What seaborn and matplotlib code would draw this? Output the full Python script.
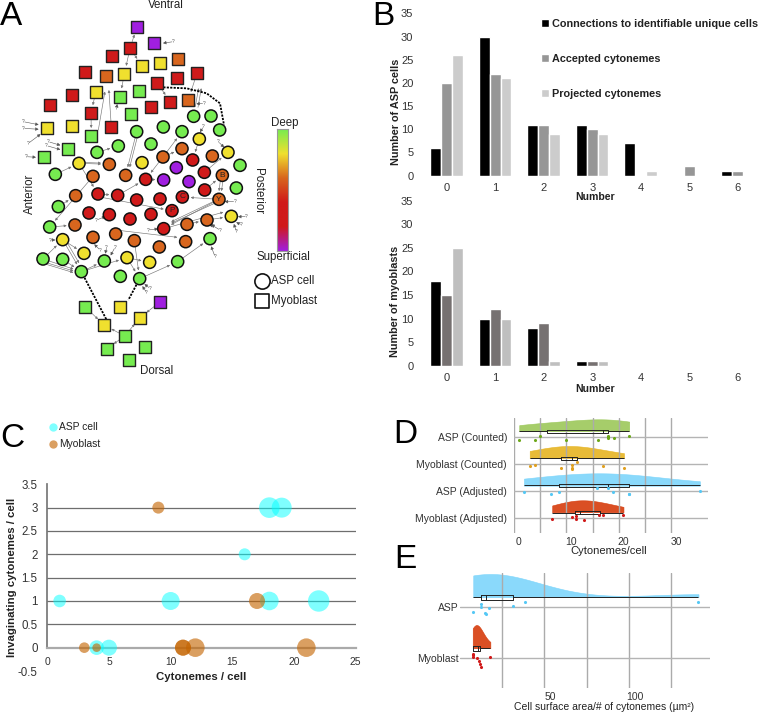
import numpy as np, pandas as pd
import matplotlib
matplotlib.use("Agg")
import matplotlib.pyplot as plt
import seaborn as sns
from matplotlib.colors import LinearSegmentedColormap
from matplotlib.transforms import ScaledTranslation

# ---------- Panel A data (node map) ----------
sq_x = [411,463,390,335,426,480,535,255,319,373,591,532,472,216,287,360,417,565,511,149,273,454,392,140,216,334,274,203,131,
        256,360,481,420,312,374,321,434,387]
sq_y = [80,130,145,167,197,190,178,215,227,222,219,233,250,286,277,290,273,300,305,316,340,321,343,384,379,381,409,446,471,
        921,921,905,953,975,1008,1046,1040,1080]
sq_depth = list("PPRRYYOROYRRRRYGGORRRRGYYRGGG" "GYPYYGGGG")
ci_x = [581,633,490,659,546,410,598,453,355,291,546,489,684,637,578,720,426,328,237,529,613,166,279,377,437,491,567,667,709,614,
        227,294,353,410,480,547,657,175,516,267,328,390,453,694,621,561,491,149,225,188,279,347,403,557,630,478,252,129,188,313,381,449,533,244,361,419]
ci_y = [349,348,381,390,395,395,417,432,438,457,446,471,457,468,480,496,488,493,490,503,517,523,529,526,538,540,545,526,564,570,
        587,582,586,600,597,591,598,620,632,639,644,657,643,649,660,673,686,681,675,719,712,702,722,725,716,741,760,777,778,783,773,787,785,815,829,836]
ci_depth = list("GGGGGGYGGGOOYORGYOYPRGOOR" "PPOGR" "ORRRRROGRRRRRYOORGOYOOOOGOYGGGYYGGGG")
ci_tags = {"B": (667,526), "C": (547,591), "Y": (657,598), "P": (516,632)}
depth_colors = {"G":"#76ec50","Y":"#f0e02e","O":"#d8661e","R":"#d01a1a","P":"#a01fe0"}
depth_scale = ["#a01fe0","#d01a1a","#d01a1a","#d8661e","#f0e02e","#76ec50"]
links = [(273,340,274,409),(287,277,273,340),(295,390,319,250),(334,381,325,245),(373,222,360,290),(390,145,373,222),
 (390,145,426,197),(390,145,411,80),(591,219,565,300),(586,320,600,240),(594,322,608,240),(472,250,511,305),(511,305,490,345),
 (237,490,328,493),(237,487,328,490),(166,523,237,490),(291,457,355,438),(279,529,149,681),(175,620,227,587),(237,490,294,582),
 (294,582,353,586),(353,586,437,538),(437,538,491,540),(410,395,377,526),(416,395,383,526),(489,471,546,395),(489,471,546,446),
 (294,590,516,632),(657,598,547,591),(657,598,491,686),(657,604,491,680),(650,600,491,676),(663,526,654,598),(671,526,661,598),
 (621,660,694,649),(561,673,621,660),(491,686,694,630),(347,690,557,715),(149,681,225,675),(129,777,244,815),(129,785,244,820),
 (129,790,244,825),(188,719,244,815),(194,715,250,811),(188,719,252,760),(188,778,244,815),(129,777,188,719),(244,815,313,783),
 (244,815,381,773),(381,773,419,836),(403,722,419,836),(533,785,630,716),(419,836,533,785),(381,773,449,787),(598,417,578,480),
 (613,517,684,457),(614,570,667,526),(489,471,437,538),(256,921,312,975),(374,1008,312,975),(374,1008,420,953),(481,905,420,953),
 (374,1008,321,1046)]
dashed_links = [([244,320],[815,960]), ([419,385],[836,900]), ([490,560,620,660,672],[262,265,280,310,375])]
open_links = [(70,365,120,375),(70,385,120,388),(85,430,125,400),(78,470,112,472),(145,425,185,437),(140,437,185,450),(520,125,485,130),
 (612,310,585,312),(350,325,352,308),(610,380,598,400),(290,660,320,648),(300,750,280,730),(345,742,330,770),(320,742,315,765),
 (150,720,170,720),(740,650,710,650),(725,675,705,665),(710,695,700,668),(660,690,630,672),(640,680,625,670),(645,770,632,735),
 (450,865,430,850),(440,878,425,855),(705,605,670,605),(655,425,675,445),(445,690,478,686)]

# ---------- Panel B data ----------
numbers = ["0","1","2","3","4","5","6"]
series_names = ["Connections to identifiable unique cells","Accepted cytonemes","Projected cytonemes"]
asp_conn = [6,30,11,11,7,0,1]
asp_acc  = [20,22,11,10,0,2,1]
asp_proj = [26,21,9,9,1,0,0]
myo_conn = [18,10,8,1,0,0,0]
myo_acc  = [15,12,9,1,0,0,0]
myo_proj = [25,10,1,1,0,0,0]

# ---------- Panel C data ----------
c_asp_x = [18,19,16,1,10,18,22,4,5]
c_asp_y = [3,3,2,1,1,1,1,0,0]
c_asp_r = [10.3,10,6,6.3,9,9.3,10.7,7.3,8]
c_myo_x = [9,17,3,4,11,11,12,21]
c_myo_y = [3,1,0,0,0,0,0,0]
c_myo_r = [6,8,5.3,4.3,8,8,9.3,9.3]

# ---------- Panel D data ----------
d_rows = ["ASP (Counted)","Myoblast (Counted)","ASP (Adjusted)","Myoblast (Adjusted)"]
d_vals = [[1,4,5,10,16,18,18,18,19,22],[3,4,9,11,11,11,12,17,21],
          [1.9,7.1,8.6,15.9,17.9,18.9,21.9,22,35.5],[7.3,11,11.9,11.9,13.3,16.3,16.9,20.9]]
d_jit = [[.09,.09,-.07,.11,.09,-.06,.0,.03,.03,-.06],[.04,0,.12,.03,.12,.16,-.1,.04,.13],
         [.03,.07,.03,-.13,-.13,.03,.1,.07,-.03],[0,-.07,-.1,.02,.05,-.13,-.13,-.13]]
d_cols = ["#9cc85a","#e6b422","#7dd5fb","#d63c0c"]
d_pts = ["#6da81a","#e0a020","#55c8f5","#d01818"]
d_ticks = [0,10,20,30]

# ---------- Panel E data ----------
e_rows = ["ASP","Myoblast"]
e_vals = [[8,12.6,12.6,15,15.5,17.3,31.7,38.4,141],[7.7,8,8,10,11.2,12,12.4,18.1]]
e_jit = [[.07,-.1,-.03,.08,.1,-.01,-.06,-.14,-.14],[-.12,-.1,-.05,-.03,.02,.08,.15,-.05]]
e_cols = ["#7dd5fb","#d63c0c"]
e_pts = ["#55c8f5","#d01818"]
e_ticks = [50,100]

W, H = 763, 713
sns.set_theme(style="white")
plt.rcParams["font.family"] = ["Liberation Sans","DejaVu Sans"]
plt.rcParams["text.color"] = "#222222"
plt.rcParams["xtick.color"] = "#333333"
plt.rcParams["ytick.color"] = "#333333"
fig = plt.figure(figsize=(W/100, H/100), dpi=100, facecolor="white")

def axpx(x0, y0, x1, y1, **kw):
    return fig.add_axes([x0/W, 1-y1/H, (x1-x0)/W, (y1-y0)/H], **kw)

def figtext(x, y, s, **kw):
    fig.text(x/W, 1-y/H, s, **kw)

# ========== Panel A ==========
a = axpx(0, 0, 340, 390)
a.set_xlim(0, 1020); a.set_ylim(1170, 0); a.axis("off")
for x0,y0,x1,y1 in links:
    a.annotate("", xy=(x1,y1), xytext=(x0,y0), zorder=1,
               arrowprops=dict(arrowstyle="-|>,head_length=0.12,head_width=0.06", lw=0.45, color="#777777", shrinkA=0, shrinkB=6))
for x0,y0,x1,y1 in open_links:
    a.annotate("", xy=(x1,y1), xytext=(x0,y0), zorder=1,
               arrowprops=dict(arrowstyle="-|>,head_length=0.15,head_width=0.08", lw=0.4, color="#555555", shrinkA=1, shrinkB=1))
    a.text(x0, y0, "?", fontsize=3.5, ha="center", va="center", color="#555555")
for xs, ys in dashed_links:
    a.plot(xs, ys, color="black", lw=1.3, ls=(0,(1.2,0.7)), zorder=1)
sns.scatterplot(x=sq_x, y=sq_y, hue=sq_depth, palette=depth_colors, marker="s", s=78, edgecolor="#222222", linewidth=1.0, legend=False, ax=a, zorder=3)
sns.scatterplot(x=ci_x, y=ci_y, hue=ci_depth, palette=depth_colors, marker="o", s=76, edgecolor="#111111", linewidth=1.1, legend=False, ax=a, zorder=3)
a.set_xlim(0, 1020); a.set_ylim(1170, 0)
for t,(x,y) in ci_tags.items():
    a.text(x, y, t, fontsize=6, ha="center", va="center", color="#222222", zorder=4)
fs_a = 8.3
a.text(499, 15, "Ventral", fontsize=fs_a, ha="center", va="center")
a.text(470, 1112, "Dorsal", fontsize=fs_a, ha="center", va="center")
a.text(90, 580, "Anterior", fontsize=fs_a, ha="center", va="center", rotation=90)
a.text(775, 573, "Posterior", fontsize=fs_a, ha="center", va="center", rotation=270)
a.text(853, 368, "Deep", fontsize=fs_a, ha="center", va="center")
a.text(849, 771, "Superficial", fontsize=fs_a, ha="center", va="center")
a.text(812, 842, "ASP cell", fontsize=fs_a, ha="left", va="center")
a.text(812, 904, "Myoblast", fontsize=fs_a, ha="left", va="center")
sns.scatterplot(x=[787], y=[842], marker="o", s=120, color="white", edgecolor="#111111", linewidth=1.2, ax=a, zorder=3)
sns.scatterplot(x=[787], y=[904], marker="s", s=100, color="white", edgecolor="#111111", linewidth=1.2, ax=a, zorder=3)

cb = axpx(277.3, 129.3, 287.7, 250.7)
cmap = LinearSegmentedColormap.from_list("depth", depth_scale)
cb.imshow(np.linspace(1, 0, 256)[:, None], aspect="auto", cmap=cmap)
cb.set_xticks([]); cb.set_yticks([])
for s in cb.spines.values():
    s.set_color("#999999"); s.set_linewidth(0.8)

# ========== Panel B ==========
def bars(x0, y0, x1, y1, vals, pal, legend=False):
    ax = axpx(x0, y0, x1, y1)
    df = pd.DataFrame({"n": numbers*3,
                       "v": sum(vals, []),
                       "s": [n for n in series_names for _ in numbers]})
    sns.barplot(data=df, x="n", y="v", hue="s", palette=pal, width=0.67, gap=0, saturation=1, ax=ax, legend=legend)
    ax.set_xlim(-0.5, 6.5); ax.set_ylim(0, 35)
    ax.set_yticks(range(0, 36, 5))
    ax.tick_params(length=0, labelsize=8, colors="#333333")
    ax.tick_params(axis="y", pad=6.5)
    ax.tick_params(axis="x", pad=5)
    for s in ax.spines.values():
        s.set_visible(False)
    ax.set_xlabel(""); ax.set_ylabel("")
    return ax

b1 = bars(422.4, 13.3, 762, 175.7, [asp_conn, asp_acc, asp_proj], ["#000000","#969696","#cccccc"], legend=True)
h, l = b1.get_legend_handles_labels()
b1.legend(h, l, frameon=False, loc="upper left", bbox_to_anchor=(541/W, 1-19/H), bbox_transform=fig.transFigure,
          prop=dict(weight="bold", size=7.85), handlelength=0.7, handleheight=0.75, handletextpad=0.35,
          labelspacing=2.3, borderpad=0, borderaxespad=0)
b2 = bars(422.4, 200.7, 762, 365.7, [myo_conn, myo_acc, myo_proj], ["#000000","#767171","#bfbfbf"])
figtext(595, 197.5, "Number", fontsize=7.6, weight="bold", ha="center", va="center")
figtext(595, 388.5, "Number", fontsize=7.6, weight="bold", ha="center", va="center")
figtext(396, 112, "Number of ASP cells", fontsize=7.8, weight="bold", ha="center", va="center", rotation=90)
figtext(395.5, 301, "Number of myoblasts", fontsize=7.8, weight="bold", ha="center", va="center", rotation=90)

# ========== Panel C ==========
c = axpx(47.3, 484.3, 355.7, 671)
k = 2*0.72
sns.scatterplot(x=c_asp_x, y=c_asp_y, s=[(r*k)**2 for r in c_asp_r], color="#00ffff", alpha=0.5, linewidth=0, ax=c, zorder=3, label="ASP cell")
sns.scatterplot(x=c_myo_x, y=c_myo_y, s=[(r*k)**2 for r in c_myo_r], color="#c46400", alpha=0.62, linewidth=0, ax=c, zorder=3, label="Myoblast")
c.set_xlim(0, 25); c.set_ylim(-0.5, 3.5)
c.set_yticks(np.arange(-0.5, 3.6, 0.5))
c.set_yticklabels(["-0.5","0","0.5","1","1.5","2","2.5","3","3.5"])
c.set_xticks(range(0, 26, 5))
c.spines["top"].set_visible(False); c.spines["right"].set_visible(False)
c.spines["bottom"].set_position(("data", 0)); c.spines["bottom"].set_color("#aaaaaa"); c.spines["bottom"].set_linewidth(1.6)
c.spines["left"].set_bounds(0, 3.5); c.spines["left"].set_color("#777777")
c.tick_params(axis="y", length=0, labelsize=8.3, pad=7)
c.tick_params(axis="x", length=3, width=0.7, color="#888888", labelsize=7.4, pad=4)
for yv in np.arange(0.5, 3.1, 0.5):
    c.axhline(yv, color="#6e6e6e", lw=0.9, zorder=1)
c.set_xlabel(""); c.set_ylabel("")
figtext(201.5, 677.5, "Cytonemes / cell", fontsize=8.2, weight="bold", ha="center", va="center")
figtext(12.5, 577.5, "Invaginating cytonemes / cell", fontsize=8.2, weight="bold", ha="center", va="center", rotation=90)
leg = c.legend(frameon=False, loc="upper left", bbox_to_anchor=(47/W, 1-422/H), bbox_transform=fig.transFigure, fontsize=7.4,
               markerscale=1, handletextpad=0.0, labelspacing=0.7, borderpad=0, borderaxespad=0, handlelength=1.2)
for hd in leg.legend_handles:
    hd.set_sizes([36])

# ========== Panels D / E ==========
def rain(x0, x1, ytop, ybot, xmax, rows, vals, jit, cols, pts, base, tops, ticks, minor, shift, ylims, bws, ticklen):
    ax = axpx(x0, ytop, x1, ybot)
    ax.patch.set_alpha(0)
    ax.set_zorder(3)
    long_x = [v for r in vals for v in r]
    long_y = [i-0.2 for i, r in enumerate(vals) for _ in r]
    sns.boxplot(x=long_x, y=long_y, orient="y", native_scale=True, width=0.1, whis=(0,100), fill=False, color="#222222",
                linewidth=0.7, fliersize=0, showcaps=False, ax=ax, zorder=5)
    for i,(r,j,p) in enumerate(zip(vals, jit, pts)):
        sns.scatterplot(x=r, y=[i+q+0.03 for q in j], color=p, s=5, linewidth=0, ax=ax, zorder=6)
    ax.set_xlim(0, xmax); ax.set_ylim(*ylims)
    ax.set_yticks(range(len(rows))); ax.set_yticklabels(rows)
    ax.set_xticks(ticks); ax.set_xticks(minor, minor=True)
    ax.grid(True, axis="x", which="both", color="#ababab", lw=1.0)
    ax.grid(True, axis="y", which="major", color="#b4b4b4", lw=1.0)
    ax.set_axisbelow(True)
    for s in ax.spines.values():
        s.set_visible(False)
    ax.tick_params(axis="x", which="both", length=0, labelsize=7.5, pad=3)
    ax.tick_params(axis="y", length=ticklen, width=0.9, color="#b4b4b4", labelsize=7.5, pad=0.5)
    off = ScaledTranslation(shift/100, 0, fig.dpi_scale_trans)
    for lab in ax.get_xticklabels():
        lab.set_transform(lab.get_transform()+off)
    for i,(r,col,bw) in enumerate(zip(vals, cols, bws)):
        rax = axpx(x0, tops[i], x1, base[i])
        rax.patch.set_alpha(0)
        sns.kdeplot(x=r, cut=0, fill=True, color=col, alpha=0.9, linewidth=0.4, bw_adjust=bw, ax=rax)
        peak = rax.collections[0].get_paths()[0].vertices[:,1].max()
        rax.set_xlim(0, xmax); rax.set_ylim(0, peak); rax.axis("off")
        rax.set_zorder(2)
    return ax

d_ax = rain(514, 708.3, 418.3, 533.3, 37.1, d_rows, d_vals, d_jit, d_cols, d_pts,
            [431.3,458.3,485.7,512.3], [419.3,446,473.3,500.3], d_ticks, [5,15,25], 5,
            (3.566,-0.676), [1.5,1.5,1.5,1.5], 4.5)
figtext(609, 551, "Cytonemes/cell", fontsize=8, ha="center", va="center")

e_ax = rain(459.7, 710, 573.3, 688.3, 147.8, e_rows, e_vals, e_jit, e_cols, e_pts,
            [597.3,648.3], [574,625], e_ticks, [25,75,125], 6,
            (1.588,-0.667), [1.0,1.5], 0)
figtext(604, 706.7, "Cell surface area/# of cytonemes (µm²)", fontsize=7.5, ha="center", va="center")

# ========== Panel letters ==========
for s,x,y in [("A",0,25),("B",372,25),("C",0,447),("D",393,443),("E",394,568)]:
    figtext(x, y, s, fontsize=24, ha="left", va="baseline", color="black")

fig.savefig("out.png", dpi=100)
